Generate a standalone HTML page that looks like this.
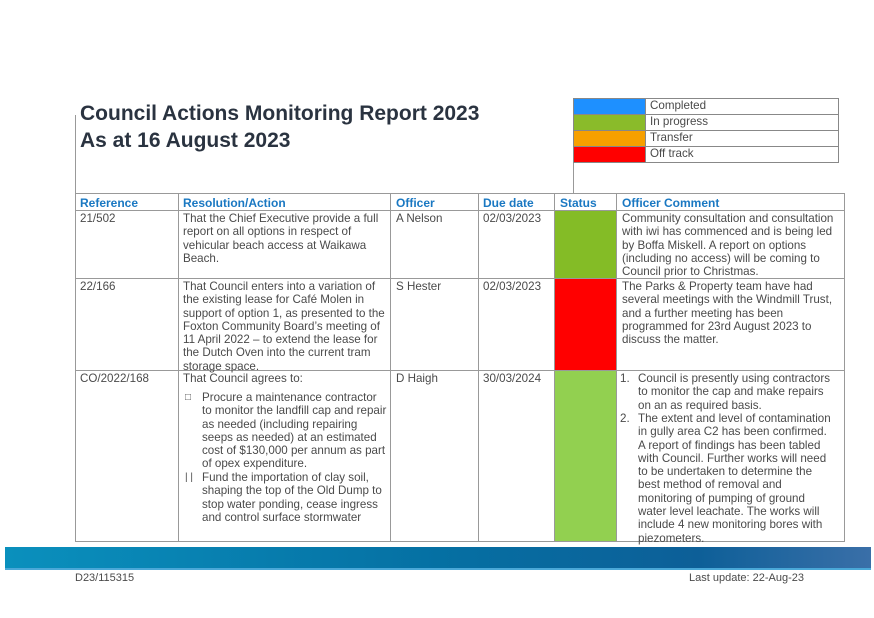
<!DOCTYPE html>
<html><head><meta charset="utf-8"><style>
*{margin:0;padding:0;box-sizing:border-box}
body{width:874px;height:618px;background:#fff;position:relative;overflow:hidden;font-family:"Liberation Sans",Arial,sans-serif;color:#4a4a4a}
.a{position:absolute}
.t{position:absolute;font-size:11.6px;line-height:13.3px;color:#4a4a4a;white-space:nowrap}
.h{position:absolute;font-size:12px;font-weight:bold;color:#1a78c2;top:196px}
.vl{position:absolute;width:1px;background:#999}
.hl{position:absolute;height:1px;background:#999}
</style></head><body>
<div class="a" style="left:80px;top:100px;font-size:21px;font-weight:bold;color:#2a3340;line-height:27px">Council Actions Monitoring Report 2023<br>As at 16 August 2023</div>
<div class="vl" style="left:75px;top:115px;height:78px"></div>
<div class="vl" style="left:573px;top:98px;height:95px"></div>
<div class="a" style="left:573px;top:98px;width:266px;height:65px;border:1px solid #888"></div>
<div class="a" style="left:574px;top:99px;width:71px;height:15px;background:#1e90ff"></div>
<div class="a" style="left:574px;top:115px;width:71px;height:15px;background:#8abb2a"></div>
<div class="a" style="left:574px;top:131px;width:71px;height:15px;background:#f7a000"></div>
<div class="a" style="left:574px;top:147px;width:71px;height:15px;background:#ff0000"></div>
<div class="vl" style="left:645px;top:98px;height:65px;background:#888"></div>
<div class="hl" style="left:573px;top:114px;width:266px;background:#888"></div>
<div class="hl" style="left:573px;top:130px;width:266px;background:#888"></div>
<div class="hl" style="left:573px;top:146px;width:266px;background:#888"></div>
<div class="t" style="left:650px;top:99px">Completed</div>
<div class="t" style="left:650px;top:115px">In progress</div>
<div class="t" style="left:650px;top:131px">Transfer</div>
<div class="t" style="left:650px;top:147px">Off track</div>
<div class="a" style="left:555px;top:211px;width:61px;height:67px;background:#84bc26"></div>
<div class="a" style="left:555px;top:279px;width:61px;height:91px;background:#ff0000"></div>
<div class="a" style="left:555px;top:371px;width:61px;height:170px;background:#92d050"></div>
<div class="a" style="left:75px;top:193px;width:770px;height:349px;border:1px solid #999"></div>
<div class="vl" style="left:178px;top:193px;height:349px"></div>
<div class="vl" style="left:390px;top:193px;height:349px"></div>
<div class="vl" style="left:478px;top:193px;height:349px"></div>
<div class="vl" style="left:554px;top:193px;height:349px"></div>
<div class="vl" style="left:616px;top:193px;height:349px"></div>
<div class="hl" style="left:75px;top:210px;width:770px"></div>
<div class="hl" style="left:75px;top:278px;width:770px"></div>
<div class="hl" style="left:75px;top:370px;width:770px"></div>
<div class="h" style="left:80px">Reference</div>
<div class="h" style="left:183px">Resolution/Action</div>
<div class="h" style="left:396px">Officer</div>
<div class="h" style="left:483px">Due date</div>
<div class="h" style="left:560px">Status</div>
<div class="h" style="left:622px">Officer Comment</div>
<div class="t" style="left:80px;top:212px">21/502</div>
<div class="t" style="left:183px;top:212px">That the Chief Executive provide a full<br>report on all options in respect of<br>vehicular beach access at Waikawa<br>Beach.</div>
<div class="t" style="left:396px;top:212px">A Nelson</div>
<div class="t" style="left:483px;top:212px">02/03/2023</div>
<div class="t" style="left:622px;top:212px">Community consultation and consultation<br>with iwi has commenced and is being led<br>by Boffa Miskell. A report on options<br>(including no access) will be coming to<br>Council prior to Christmas.</div>
<div class="t" style="left:80px;top:280px">22/166</div>
<div class="t" style="left:183px;top:280px">That Council enters into a variation of<br>the existing lease for Café Molen in<br>support of option 1, as presented to the<br>Foxton Community Board’s meeting of<br>11 April 2022 – to extend the lease for<br>the Dutch Oven into the current tram<br>storage space.</div>
<div class="t" style="left:396px;top:280px">S Hester</div>
<div class="t" style="left:483px;top:280px">02/03/2023</div>
<div class="t" style="left:622px;top:280px">The Parks &amp; Property team have had<br>several meetings with the Windmill Trust,<br>and a further meeting has been<br>programmed for 23rd August 2023 to<br>discuss the matter.</div>
<div class="t" style="left:80px;top:372px">CO/2022/168</div>
<div class="t" style="left:183px;top:372px">That Council agrees to:</div>
<div class="t" style="left:185px;top:391px;font-size:10px">□</div>
<div class="t" style="left:202px;top:391px">Procure a maintenance contractor<br>to monitor the landfill cap and repair<br>as needed (including repairing<br>seeps as needed) at an estimated<br>cost of $130,000 per annum as part<br>of opex expenditure.</div>
<div class="t" style="left:185px;top:471px;font-size:10px">| |</div>
<div class="t" style="left:202px;top:471px">Fund the importation of clay soil,<br>shaping the top of the Old Dump to<br>stop water ponding, cease ingress<br>and control surface stormwater</div>
<div class="t" style="left:396px;top:372px">D Haigh</div>
<div class="t" style="left:483px;top:372px">30/03/2024</div>
<div class="t" style="left:620px;top:372px">1.</div>
<div class="t" style="left:638px;top:372px">Council is presently using contractors<br>to monitor the cap and make repairs<br>on an as required basis.</div>
<div class="t" style="left:620px;top:412px">2.</div>
<div class="t" style="left:638px;top:412px">The extent and level of contamination<br>in gully area C2 has been confirmed.<br>A report of findings has been tabled<br>with Council. Further works will need<br>to be undertaken to determine the<br>best method of removal and<br>monitoring of pumping of ground<br>water level leachate. The works will<br>include 4 new monitoring bores with<br>piezometers.</div>
<div class="a" style="left:5px;top:547px;width:866px;height:23px;background:linear-gradient(90deg,#0a90bd,#0570a3 50%,#0d5f98 80%,#3a6fa8);border-bottom:2px solid #4aa8d8"></div>
<div class="t" style="left:75px;top:572px;font-size:11px">D23/115315</div>
<div class="t" style="left:689px;top:572px;font-size:11px">Last update: 22-Aug-23</div>
</body></html>
